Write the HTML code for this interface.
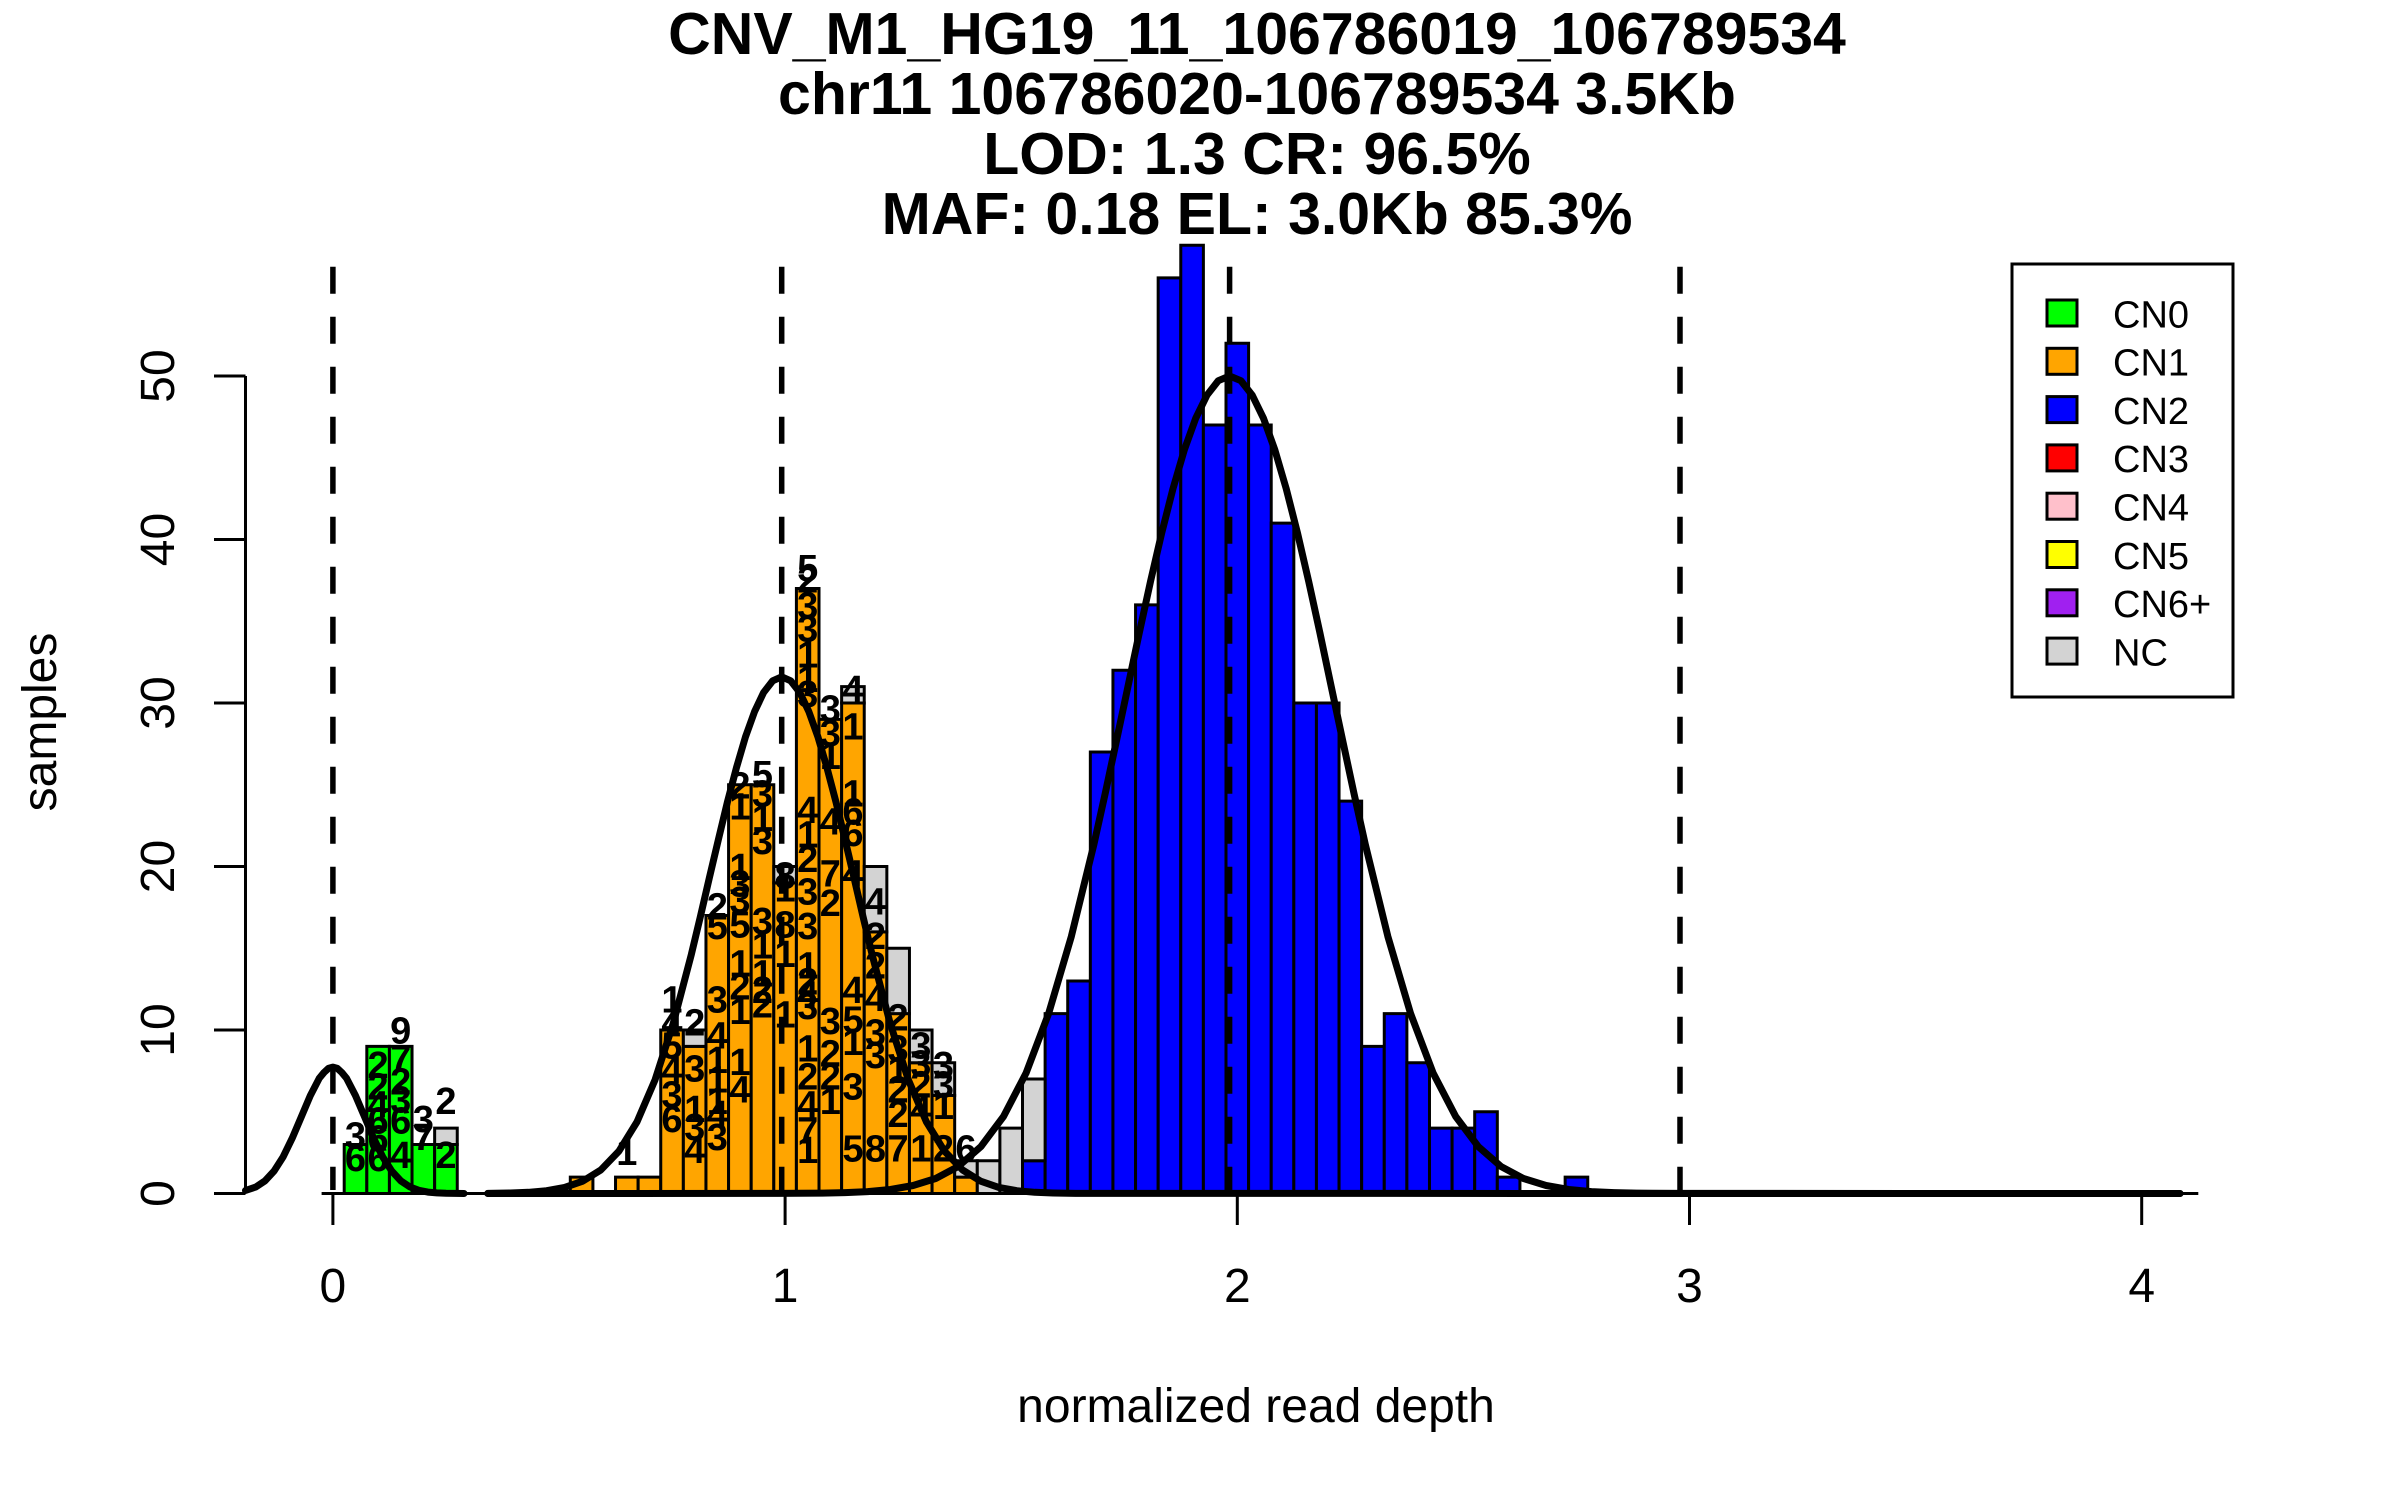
<!DOCTYPE html>
<html>
<head>
<meta charset="utf-8">
<style>
html,body{margin:0;padding:0;background:#fff;}
svg{display:block;}
text{font-family:"Liberation Sans",Arial,Helvetica,sans-serif;}
</style>
</head>
<body>
<svg width="2400" height="1500" viewBox="0 0 2400 1500" xmlns="http://www.w3.org/2000/svg">
<rect x="0" y="0" width="2400" height="1500" fill="#fff"/>

<!-- Title -->
<g font-weight="bold" font-size="59" text-anchor="middle" fill="#000">
<text x="1257" y="54">CNV_M1_HG19_11_106786019_106789534</text>
<text x="1257" y="114">chr11 106786020-106789534 3.5Kb</text>
<text x="1257" y="174">LOD: 1.3 CR: 96.5%</text>
<text x="1257" y="234">MAF: 0.18 EL: 3.0Kb 85.3%</text>
</g>

<!-- Histogram bars in data coordinates -->
<g transform="matrix(452.2 0 0 -16.35 332.9 1193.5)" stroke="#000" stroke-width="3">
<g fill="#00ff00">
<rect x="0.025" y="0" width="0.05" height="3" vector-effect="non-scaling-stroke"/>
<rect x="0.075" y="0" width="0.05" height="9" vector-effect="non-scaling-stroke"/>
<rect x="0.125" y="0" width="0.05" height="9" vector-effect="non-scaling-stroke"/>
<rect x="0.175" y="0" width="0.05" height="3" vector-effect="non-scaling-stroke"/>
<rect x="0.225" y="0" width="0.05" height="3" vector-effect="non-scaling-stroke"/>
</g>
<g fill="#ffa500">
<rect x="0.525" y="0" width="0.05" height="1" vector-effect="non-scaling-stroke"/>
<rect x="0.625" y="0" width="0.05" height="1" vector-effect="non-scaling-stroke"/>
<rect x="0.675" y="0" width="0.05" height="1" vector-effect="non-scaling-stroke"/>
<rect x="0.725" y="0" width="0.05" height="10" vector-effect="non-scaling-stroke"/>
<rect x="0.775" y="0" width="0.05" height="9" vector-effect="non-scaling-stroke"/>
<rect x="0.825" y="0" width="0.05" height="17" vector-effect="non-scaling-stroke"/>
<rect x="0.875" y="0" width="0.05" height="25" vector-effect="non-scaling-stroke"/>
<rect x="0.925" y="0" width="0.05" height="25" vector-effect="non-scaling-stroke"/>
<rect x="0.975" y="0" width="0.05" height="19" vector-effect="non-scaling-stroke"/>
<rect x="1.025" y="0" width="0.05" height="37" vector-effect="non-scaling-stroke"/>
<rect x="1.075" y="0" width="0.05" height="29" vector-effect="non-scaling-stroke"/>
<rect x="1.125" y="0" width="0.05" height="30" vector-effect="non-scaling-stroke"/>
<rect x="1.175" y="0" width="0.05" height="16" vector-effect="non-scaling-stroke"/>
<rect x="1.225" y="0" width="0.05" height="11" vector-effect="non-scaling-stroke"/>
<rect x="1.275" y="0" width="0.05" height="8" vector-effect="non-scaling-stroke"/>
<rect x="1.325" y="0" width="0.05" height="6" vector-effect="non-scaling-stroke"/>
<rect x="1.375" y="0" width="0.05" height="1" vector-effect="non-scaling-stroke"/>
</g>
<g fill="#0000ff">
<rect x="1.525" y="0" width="0.05" height="2" vector-effect="non-scaling-stroke"/>
<rect x="1.575" y="0" width="0.05" height="11" vector-effect="non-scaling-stroke"/>
<rect x="1.625" y="0" width="0.05" height="13" vector-effect="non-scaling-stroke"/>
<rect x="1.675" y="0" width="0.05" height="27" vector-effect="non-scaling-stroke"/>
<rect x="1.725" y="0" width="0.05" height="32" vector-effect="non-scaling-stroke"/>
<rect x="1.775" y="0" width="0.05" height="36" vector-effect="non-scaling-stroke"/>
<rect x="1.825" y="0" width="0.05" height="56" vector-effect="non-scaling-stroke"/>
<rect x="1.875" y="0" width="0.05" height="58" vector-effect="non-scaling-stroke"/>
<rect x="1.925" y="0" width="0.05" height="47" vector-effect="non-scaling-stroke"/>
<rect x="1.975" y="0" width="0.05" height="52" vector-effect="non-scaling-stroke"/>
<rect x="2.025" y="0" width="0.05" height="47" vector-effect="non-scaling-stroke"/>
<rect x="2.075" y="0" width="0.05" height="41" vector-effect="non-scaling-stroke"/>
<rect x="2.125" y="0" width="0.05" height="30" vector-effect="non-scaling-stroke"/>
<rect x="2.175" y="0" width="0.05" height="30" vector-effect="non-scaling-stroke"/>
<rect x="2.225" y="0" width="0.05" height="24" vector-effect="non-scaling-stroke"/>
<rect x="2.275" y="0" width="0.05" height="9" vector-effect="non-scaling-stroke"/>
<rect x="2.325" y="0" width="0.05" height="11" vector-effect="non-scaling-stroke"/>
<rect x="2.375" y="0" width="0.05" height="8" vector-effect="non-scaling-stroke"/>
<rect x="2.425" y="0" width="0.05" height="4" vector-effect="non-scaling-stroke"/>
<rect x="2.475" y="0" width="0.05" height="4" vector-effect="non-scaling-stroke"/>
<rect x="2.525" y="0" width="0.05" height="5" vector-effect="non-scaling-stroke"/>
<rect x="2.575" y="0" width="0.05" height="1" vector-effect="non-scaling-stroke"/>
<rect x="2.725" y="0" width="0.05" height="1" vector-effect="non-scaling-stroke"/>
</g>
<g fill="#d3d3d3">
<rect x="0.225" y="3" width="0.05" height="1" vector-effect="non-scaling-stroke"/>
<rect x="0.775" y="9" width="0.05" height="1" vector-effect="non-scaling-stroke"/>
<rect x="0.975" y="19" width="0.05" height="1" vector-effect="non-scaling-stroke"/>
<rect x="1.125" y="30" width="0.05" height="1" vector-effect="non-scaling-stroke"/>
<rect x="1.175" y="16" width="0.05" height="4" vector-effect="non-scaling-stroke"/>
<rect x="1.225" y="11" width="0.05" height="4" vector-effect="non-scaling-stroke"/>
<rect x="1.275" y="8" width="0.05" height="2" vector-effect="non-scaling-stroke"/>
<rect x="1.325" y="6" width="0.05" height="2" vector-effect="non-scaling-stroke"/>
<rect x="1.375" y="1" width="0.05" height="1" vector-effect="non-scaling-stroke"/>
<rect x="1.425" y="0" width="0.05" height="2" vector-effect="non-scaling-stroke"/>
<rect x="1.475" y="0" width="0.05" height="4" vector-effect="non-scaling-stroke"/>
<rect x="1.525" y="2" width="0.05" height="5" vector-effect="non-scaling-stroke"/>
</g>
</g>

<!-- zero-height bins baseline -->
<line x1="321.6" y1="1193.5" x2="2198.3" y2="1193.5" stroke="#000" stroke-width="3"/>

<!-- Bar labels -->
<g font-weight="bold" font-size="38" text-anchor="middle" fill="#000">
<!-- green -->
<text x="355.5" y="1148.3">3</text><text x="355.5" y="1171.2">6</text>
<text x="378.1" y="1078">2</text><text x="378.1" y="1099.3">2</text><text x="378.1" y="1117.3">4</text><text x="378.1" y="1133.6">6</text><text x="378.1" y="1151.6">6</text><text x="378.1" y="1171.2">6</text>
<text x="400.7" y="1043.7">9</text><text x="400.7" y="1071.5">7</text><text x="400.7" y="1094.4">2</text><text x="400.7" y="1112.4">3</text><text x="400.7" y="1133.6">6</text><text x="400.7" y="1168">4</text>
<text x="423.3" y="1132">3</text><text x="423.3" y="1150">7</text>
<text x="445.9" y="1114">2</text><text x="445.9" y="1168">2</text>
<!-- orange -->
<text x="626.8" y="1165">1</text>
<text x="672" y="1012.6">1</text><text x="672" y="1035.5">4</text><text x="672" y="1058.4">5</text><text x="672" y="1082.9">4</text><text x="672" y="1107.5">3</text><text x="672" y="1132">6</text>
<text x="694.7" y="1035.5">2</text><text x="694.7" y="1081.3">3</text><text x="694.7" y="1122.2">1</text><text x="694.7" y="1140.2">3</text><text x="694.7" y="1163.1">4</text>
<text x="717.3" y="919.4">2</text><text x="717.3" y="939.1">5</text><text x="717.3" y="1012.6">3</text><text x="717.3" y="1048.6">4</text><text x="717.3" y="1073.1">1</text><text x="717.3" y="1092.7">1</text><text x="717.3" y="1114">1</text><text x="717.3" y="1127.1">4</text><text x="717.3" y="1150">3</text>
<text x="739.9" y="798.4">2</text><text x="739.9" y="819.7">1</text><text x="739.9" y="880.2">1</text><text x="739.9" y="896.5">3</text><text x="739.9" y="912.9">3</text><text x="739.9" y="937.4">5</text><text x="739.9" y="976.7">1</text><text x="739.9" y="999.6">2</text><text x="739.9" y="1024.1">1</text><text x="739.9" y="1074.8">1</text><text x="739.9" y="1102.6">4</text>
<text x="762.5" y="787">5</text><text x="762.5" y="806.6">3</text><text x="762.5" y="831.1">1</text><text x="762.5" y="854">3</text><text x="762.5" y="934.2">3</text><text x="762.5" y="958.7">1</text><text x="762.5" y="986.5">1</text><text x="762.5" y="1002.8">2</text><text x="762.5" y="1017.5">2</text>
<text x="785.1" y="888.4">8</text><text x="785.1" y="901.5">1</text><text x="785.1" y="937.4">8</text><text x="785.1" y="966.9">1</text><text x="785.1" y="1027.3">1</text>
<text x="807.7" y="581">5</text><text x="807.7" y="592.4">2</text><text x="807.7" y="618.6">3</text><text x="807.7" y="641.5">3</text><text x="807.7" y="667.6">1</text><text x="807.7" y="692.2">1</text><text x="807.7" y="706.9">3</text><text x="807.7" y="823">4</text><text x="807.7" y="847.5">1</text><text x="807.7" y="872">2</text><text x="807.7" y="904.7">3</text><text x="807.7" y="939.1">3</text><text x="807.7" y="978.3">1</text><text x="807.7" y="994.6">2</text><text x="807.7" y="1007.7">4</text><text x="807.7" y="1019.2">3</text><text x="807.7" y="1061.7">1</text><text x="807.7" y="1089.5">2</text><text x="807.7" y="1117.3">4</text><text x="807.7" y="1143.4">7</text><text x="807.7" y="1163.1">1</text>
<text x="830.3" y="721.6">3</text><text x="830.3" y="746.1">3</text><text x="830.3" y="769">1</text><text x="830.3" y="834.4">4</text><text x="830.3" y="886.7">7</text><text x="830.3" y="916.2">2</text><text x="830.3" y="1033.9">3</text><text x="830.3" y="1066.6">2</text><text x="830.3" y="1089.5">2</text><text x="830.3" y="1114">1</text>
<text x="852.9" y="702">4</text><text x="852.9" y="739.6">1</text><text x="852.9" y="806.6">1</text><text x="852.9" y="824.6">6</text><text x="852.9" y="845.9">6</text><text x="852.9" y="886.7">4</text><text x="852.9" y="1002.8">4</text><text x="852.9" y="1032.3">5</text><text x="852.9" y="1055.1">1</text><text x="852.9" y="1099.3">3</text><text x="852.9" y="1161.4">5</text>
<text x="875.5" y="914.5">4</text><text x="875.5" y="948.9">2</text><text x="875.5" y="978.3">2</text><text x="875.5" y="1011">4</text><text x="875.5" y="1045.3">3</text><text x="875.5" y="1068.2">3</text><text x="875.5" y="1161.4">8</text>
<text x="898.1" y="1030.6">2</text><text x="898.1" y="1061.7">3</text><text x="898.1" y="1082.9">1</text><text x="898.1" y="1102.6">2</text><text x="898.1" y="1127.1">2</text><text x="898.1" y="1161.4">7</text>
<text x="920.8" y="1058.4">3</text><text x="920.8" y="1076.4">3</text><text x="920.8" y="1097.7">2</text><text x="920.8" y="1122.2">4</text><text x="920.8" y="1161.4">1</text>
<text x="943.4" y="1078">3</text><text x="943.4" y="1097.7">3</text><text x="943.4" y="1118.9">1</text><text x="943.4" y="1161.4">2</text>
<text x="966" y="1161.4">6</text>
</g>

<!-- Gaussian curves -->
<g fill="none" stroke="#000" stroke-width="7" stroke-linejoin="round" stroke-linecap="round">
<polyline points="245.5,1190.5 256.0,1186.9 265.1,1180.8 274.1,1171.0 283.2,1156.7 292.2,1138.2 301.3,1116.9 310.3,1095.6 319.3,1078.2 324.0,1072.5 328.4,1068.4 332.9,1067.1 337.4,1068.4 341.8,1072.5 346.5,1078.2 355.5,1095.6 364.6,1116.9 373.6,1138.2 382.6,1156.7 391.7,1171.0 400.7,1180.8 409.8,1186.9 418.8,1190.3 427.9,1192.1 436.9,1192.9 446.0,1193.3 464.0,1193.5"/>
<polyline points="487.8,1193.4 510.4,1193.0 528.5,1192.3 546.6,1190.7 564.6,1187.4 582.7,1181.2 600.8,1170.0 618.9,1151.2 637.0,1121.9 655.1,1079.7 673.2,1023.5 691.3,954.6 700.3,916.9 709.3,878.1 718.4,839.5 727.4,802.1 736.5,767.5 745.5,736.8 754.6,711.5 763.6,692.5 772.7,680.8 781.7,676.8 790.7,680.8 799.8,692.5 808.8,711.5 817.9,736.8 826.9,767.5 836.0,802.1 845.0,839.5 854.1,878.1 863.1,916.9 872.1,954.6 890.2,1023.5 908.3,1079.7 926.4,1121.9 944.5,1151.2 962.6,1170.0 980.7,1181.2 998.8,1187.4 1016.8,1190.7 1034.9,1192.3 1053.0,1193.0 1075.6,1193.4 2180,1193.5"/>
<polyline points="487.8,1193.5 777.4,1193.4 822.6,1193.1 845.2,1192.6 867.8,1191.6 890.5,1189.5 913.1,1185.5 935.7,1178.5 958.3,1166.4 980.9,1146.6 1003.5,1116.5 1026.1,1073.0 1048.7,1013.3 1071.3,936.6 1093.9,844.4 1105.2,793.5 1116.5,740.6 1127.9,686.9 1139.2,633.3 1150.5,581.5 1161.8,532.6 1173.1,488.3 1184.4,449.7 1195.7,418.3 1207.0,395.1 1218.3,380.7 1229.6,376.0 1240.9,380.7 1252.2,395.1 1263.5,418.3 1274.8,449.7 1286.1,488.3 1297.4,532.6 1308.7,581.5 1320.0,633.3 1331.3,686.9 1342.7,740.6 1354.0,793.5 1365.3,844.4 1387.9,936.6 1410.5,1013.3 1433.1,1073.0 1455.7,1116.5 1478.3,1146.6 1500.9,1166.4 1523.5,1178.5 1546.1,1185.5 1568.7,1189.5 1591.4,1191.6 1614.0,1192.6 1636.6,1193.1 1681.8,1193.4 2180,1193.5"/>
</g>

<!-- Dashed vertical lines -->
<g stroke="#000" stroke-width="5.5" stroke-dasharray="27 23">
<line x1="332.9" y1="266.7" x2="332.9" y2="1190"/>
<line x1="781.7" y1="266.7" x2="781.7" y2="1190"/>
<line x1="1229.6" y1="266.7" x2="1229.6" y2="1190"/>
<line x1="1680" y1="266.7" x2="1680" y2="1190"/>
</g>

<!-- Y axis -->
<g stroke="#000" stroke-width="3">
<line x1="245.5" y1="376" x2="245.5" y2="1193.5"/>
<line x1="214" y1="1193.5" x2="245.5" y2="1193.5"/>
<line x1="214" y1="1030" x2="245.5" y2="1030"/>
<line x1="214" y1="866.5" x2="245.5" y2="866.5"/>
<line x1="214" y1="703" x2="245.5" y2="703"/>
<line x1="214" y1="539.5" x2="245.5" y2="539.5"/>
<line x1="214" y1="376" x2="245.5" y2="376"/>
</g>
<g font-size="48" text-anchor="middle" fill="#000">
<text transform="translate(174,1193.5) rotate(-90)">0</text>
<text transform="translate(174,1030) rotate(-90)">10</text>
<text transform="translate(174,866.5) rotate(-90)">20</text>
<text transform="translate(174,703) rotate(-90)">30</text>
<text transform="translate(174,539.5) rotate(-90)">40</text>
<text transform="translate(174,376) rotate(-90)">50</text>
<text transform="translate(56,722) rotate(-90)">samples</text>
</g>

<!-- X axis ticks -->
<g stroke="#000" stroke-width="3">
<line x1="332.9" y1="1194" x2="332.9" y2="1225"/>
<line x1="785.1" y1="1194" x2="785.1" y2="1225"/>
<line x1="1237.3" y1="1194" x2="1237.3" y2="1225"/>
<line x1="1689.5" y1="1194" x2="1689.5" y2="1225"/>
<line x1="2141.7" y1="1194" x2="2141.7" y2="1225"/>
</g>
<g font-size="48" text-anchor="middle" fill="#000">
<text x="332.9" y="1302">0</text>
<text x="785.1" y="1302">1</text>
<text x="1237.3" y="1302">2</text>
<text x="1689.5" y="1302">3</text>
<text x="2141.7" y="1302">4</text>
<text x="1256" y="1422">normalized read depth</text>
</g>

<!-- Legend -->
<rect x="2012" y="264" width="221" height="433" fill="#fff" stroke="#000" stroke-width="3"/>
<g stroke="#000" stroke-width="3">
<rect x="2047" y="300" width="30" height="26" fill="#00ff00"/>
<rect x="2047" y="348.3" width="30" height="26" fill="#ffa500"/>
<rect x="2047" y="396.6" width="30" height="26" fill="#0000ff"/>
<rect x="2047" y="444.9" width="30" height="26" fill="#ff0000"/>
<rect x="2047" y="493.2" width="30" height="26" fill="#ffc0cb"/>
<rect x="2047" y="541.5" width="30" height="26" fill="#ffff00"/>
<rect x="2047" y="589.8" width="30" height="26" fill="#a020f0"/>
<rect x="2047" y="638.1" width="30" height="26" fill="#d3d3d3"/>
</g>
<g font-size="38" fill="#000">
<text x="2113" y="327.3">CN0</text>
<text x="2113" y="375.6">CN1</text>
<text x="2113" y="423.9">CN2</text>
<text x="2113" y="472.2">CN3</text>
<text x="2113" y="520.5">CN4</text>
<text x="2113" y="568.8">CN5</text>
<text x="2113" y="617.1">CN6+</text>
<text x="2113" y="665.4">NC</text>
</g>
</svg>
</body>
</html>
